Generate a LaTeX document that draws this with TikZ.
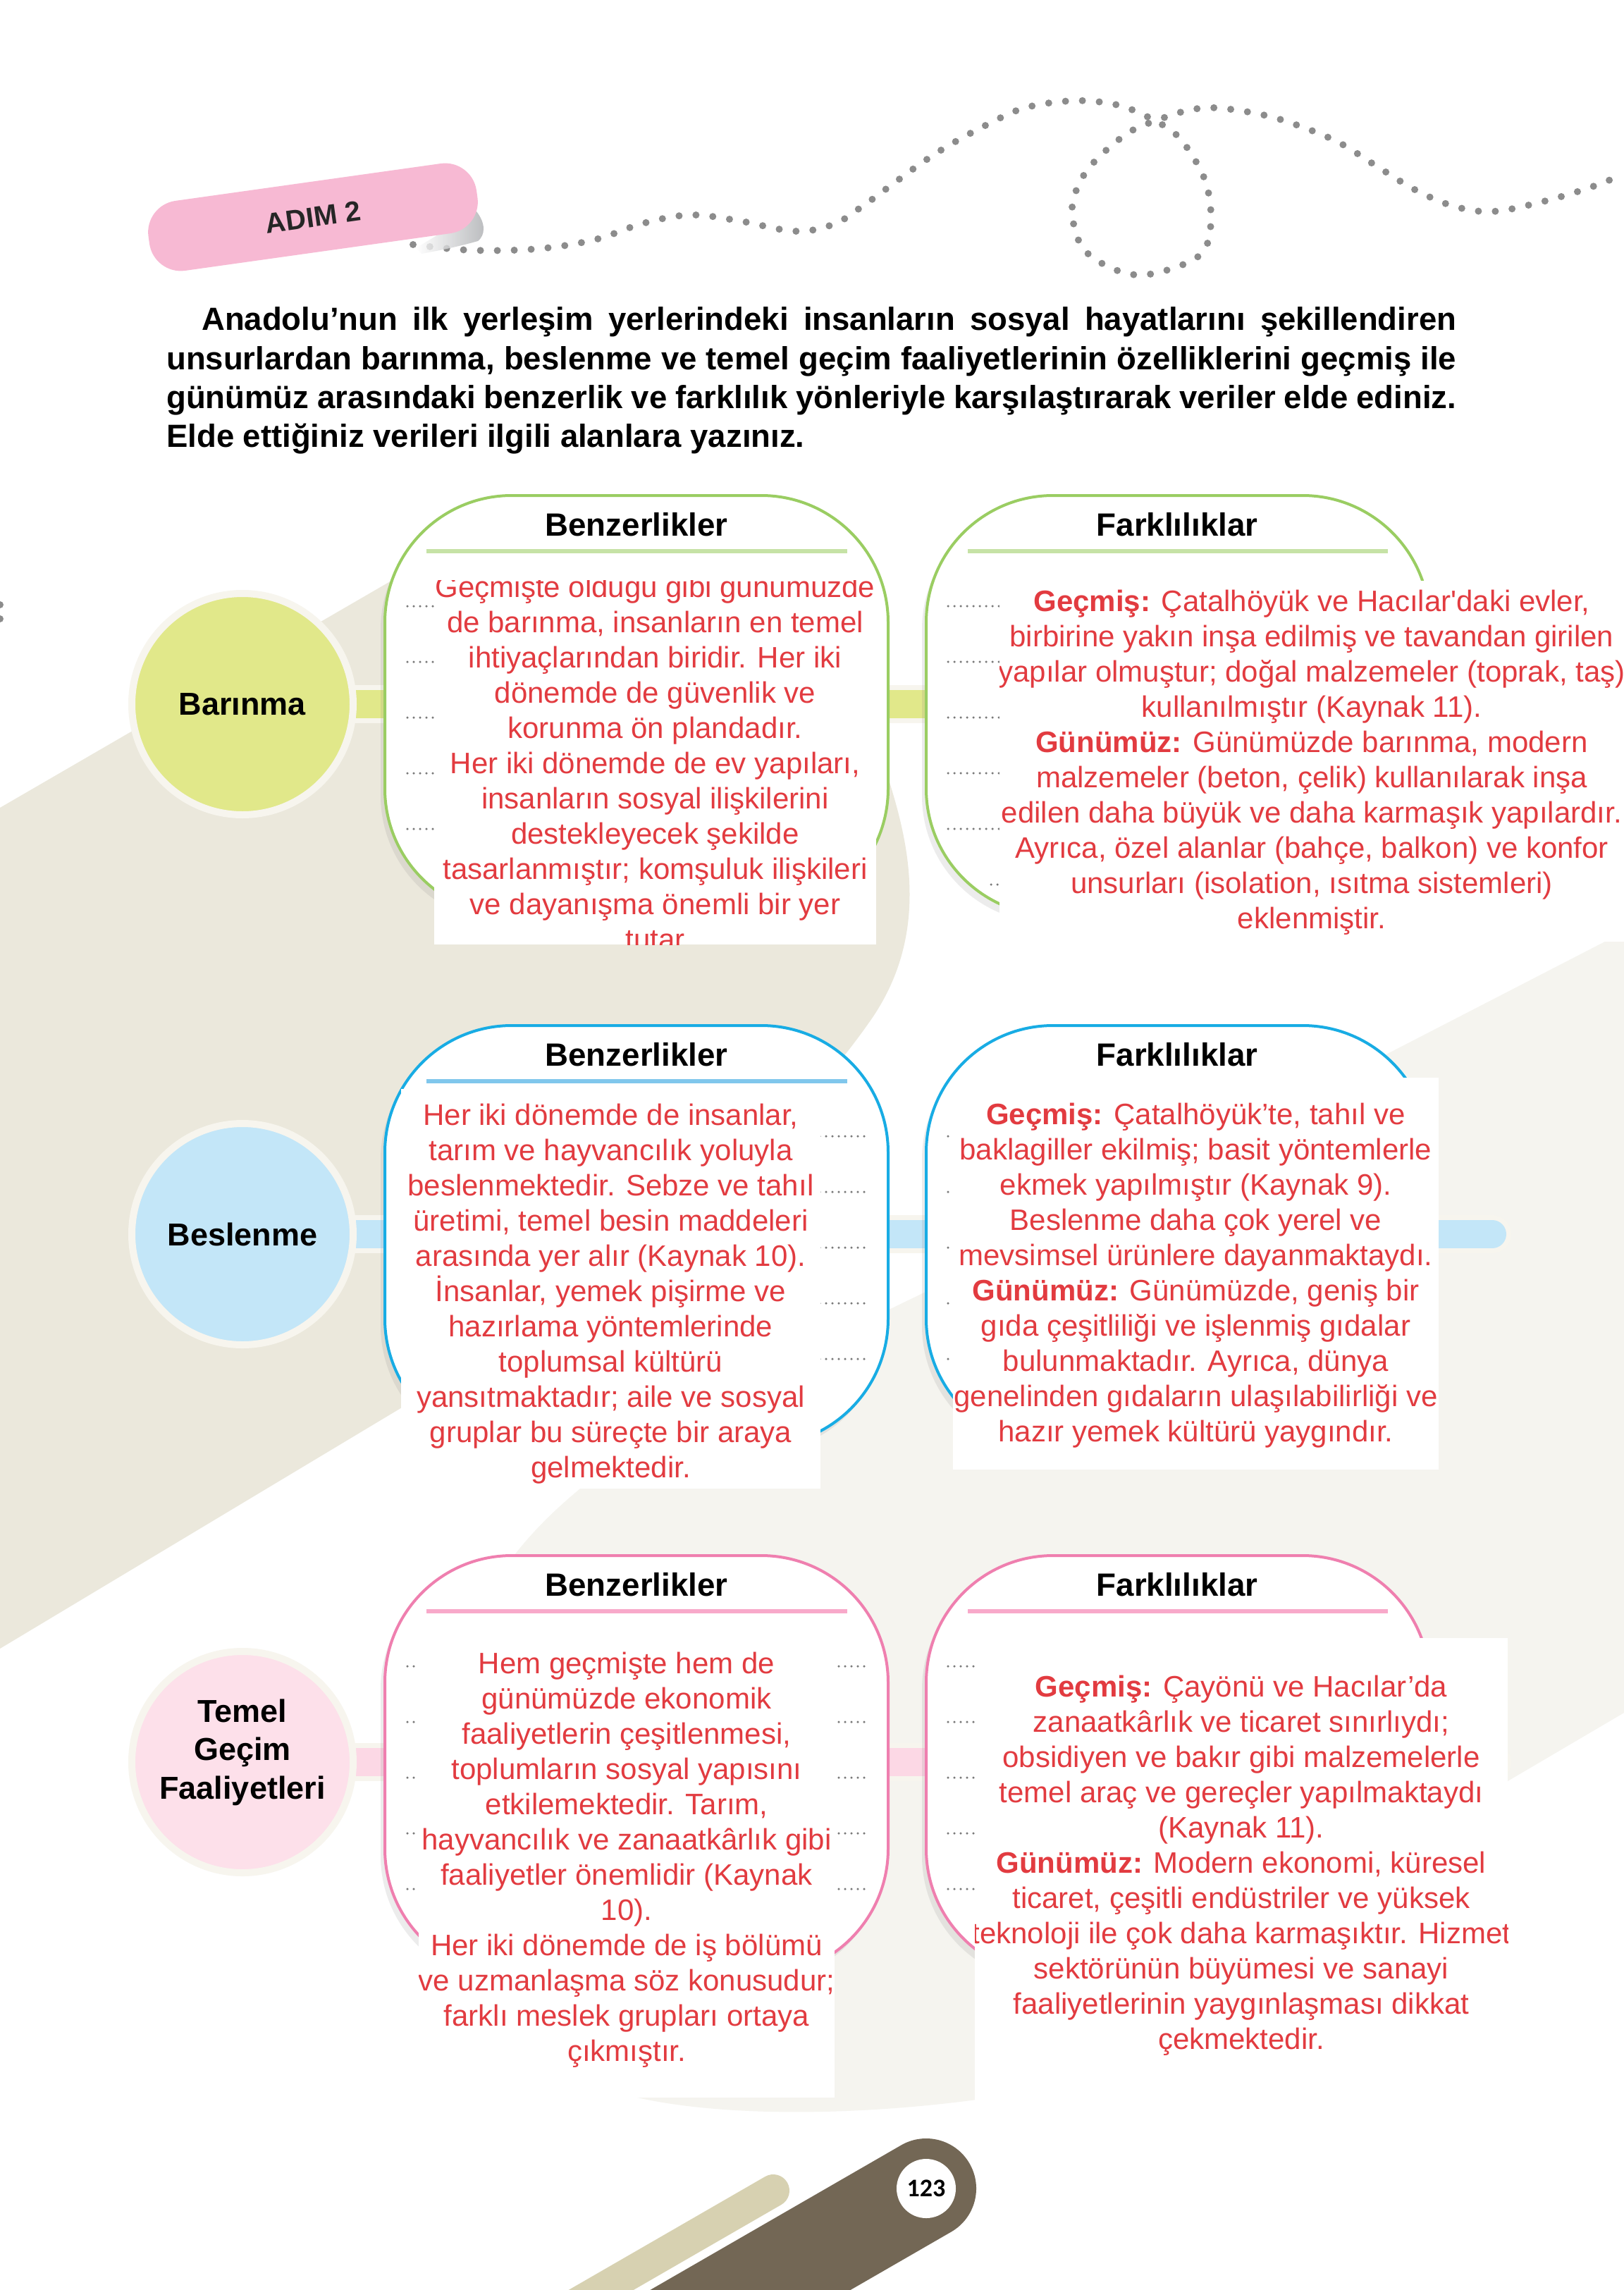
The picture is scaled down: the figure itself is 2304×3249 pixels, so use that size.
\documentclass[tikz,border=0pt]{standalone}
\usepackage{fontspec}
\setmainfont{Liberation Sans}
\newfontfamily\numfont{Carlito}
\usetikzlibrary{shadows}
\definecolor{beigeBG}{HTML}{EBE8DC}
\definecolor{lightBG}{HTML}{F5F4EF}
\definecolor{dotgray}{HTML}{8C8C8C}
\definecolor{tabpink}{HTML}{F7B9D3}
\definecolor{halo}{HTML}{F7F5EE}
\definecolor{gFill}{HTML}{E1E88A}
\definecolor{gLine}{HTML}{9ACD62}
\definecolor{gRule}{HTML}{C6E2A6}
\definecolor{bFill}{HTML}{C3E6F8}
\definecolor{bLine}{HTML}{18ACE4}
\definecolor{bRule}{HTML}{80C7EC}
\definecolor{pFill}{HTML}{FDE0EA}
\definecolor{pLine}{HTML}{EF7FAF}
\definecolor{pRule}{HTML}{F8A9CA}
\definecolor{redT}{HTML}{E23B40}
\definecolor{brownBar}{HTML}{736755}
\definecolor{sandBar}{HTML}{D7D1B1}
\definecolor{wdot}{HTML}{7A7A7A}
\definecolor{tabshade}{HTML}{A9ABAE}
\tikzset{
  cbox/.style={rectangle, minimum width=714pt, minimum height=596pt, rounded corners=180pt, fill=white, line width=4pt, inner sep=0pt,
    drop shadow={shadow xshift=-6pt, shadow yshift=-10pt, opacity=0.15}},
  hdr/.style={font=\fontsize{45.7}{50}\selectfont\bfseries, inner sep=0pt},
  circ/.style={circle, minimum size=314pt, inner sep=0pt, draw=halo, line width=10pt, font=\fontsize{45}{54.5}\selectfont\bfseries, align=center},
  redtxt/.style={anchor=north, inner sep=0pt, align=center, text=redT, font=\fontsize{42}{50}\selectfont},
  wline/.style={wdot, line width=3.5pt, dash pattern=on 0pt off 9pt, line cap=round},
  hrule/.style={line width=6pt},
  barhalo/.style={halo, line width=54pt, line cap=round},
  barline/.style={line width=40pt, line cap=round},
  dotpath/.style={dotgray, line width=10pt, dash pattern=on 0pt off 24pt, line cap=round},
  tabbox/.style={rectangle, fill=tabpink, minimum width=470pt, minimum height=100pt, rounded corners=45pt, inner sep=0pt, font=\fontsize{40}{44}\selectfont\bfseries, text=black!85}
}
\begin{document}
\begin{tikzpicture}[x=1pt,y=-1pt]
\useasboundingbox (0,0) rectangle (2304,3249);
\fill[white] (0,0) rectangle (2304,3249);

% background shapes
\fill[beigeBG] (0,1146) -- (600,798) .. controls (950,600) and (1200,850) .. (1262,1110)
  .. controls (1290,1200) and (1320,1330) .. (1232,1452)
  .. controls (1100,1640) and (800,1900) .. (570,1997) -- (0,2339) -- cycle;
\fill[lightBG] (2304,1322) -- (1313,1833) .. controls (1050,1960) and (800,2080) .. (700,2250)
  .. controls (600,2500) and (620,2850) .. (900,2975)
  .. controls (1050,3010) and (1300,3000) .. (1500,2960)
  .. controls (1800,2900) and (2000,2650) .. (2139,2527) -- (2304,2430) -- cycle;

% page number bars
\draw[sandBar, line width=46pt, line cap=round] (1097,3108) -- (577,3408);
\draw[brownBar, line width=142pt, line cap=round] (1314,3105) -- (794,3405);
\node[circle, fill=white, minimum size=84pt, inner sep=0pt, font=\numfont\bfseries\fontsize{36}{40}\selectfont] (pg) at (1314,3105) {123};

% dotted decorative path
\draw[dotpath] plot[smooth, tension=0.6] coordinates {(586,347) (668,355) (763,353) (844,340) (912,317) (979,305) (1047,313) (1128,328) (1183,318) (1223,293) (1264,263) (1305,233) (1345,207) (1400,177) (1454,153) (1521,143) (1576,147) (1616,160) (1664,187) (1691,220) (1711,260) (1718,307) (1711,350) (1684,373) (1623,390) (1576,380) (1535,350) (1521,297) (1535,253) (1562,220) (1603,187) (1643,170) (1684,157) (1725,153) (1792,163) (1847,180) (1901,203) (1955,237) (2009,270) (2064,293) (2118,300) (2185,287) (2253,267) (2304,247)};
\fill[dotgray] (0,858) circle (5);
\fill[dotgray] (0,878) circle (5);

% ADIM 2 tab
\shade[left color=white, right color=tabshade, opacity=0.8] (590,352) -- (676,300) .. controls (690,318) and (688,334) .. (678,342) .. controls (650,350) and (620,356) .. (598,360) -- cycle;
\node[tabbox, rotate=8] (tab) at (444,308) {ADIM 2};

% paragraph
\node[anchor=north west, text width=1830pt, align=justify, inner sep=0pt, font=\fontsize{45.5}{55.3}\selectfont\bfseries] (para) at (236,430)
{\hspace*{50pt}\strut Anadolu’nun ilk yerleşim yerlerindeki insanların sosyal hayatlarını şekillendiren\linebreak
unsurlardan barınma, beslenme ve temel geçim faaliyetlerinin özelliklerini geçmiş ile\linebreak
günümüz arasındaki benzerlik ve farklılık yönleriyle karşılaştırarak veriler elde ediniz.\linebreak
Elde ettiğiniz verileri ilgili alanlara yazınız.};

% end coordinates of bars
\coordinate (e1) at (2117,999);
\coordinate (e2) at (2117,1751);
\coordinate (e3) at (2117,2500);
\path (344,999) coordinate (c1p) (344,1751) coordinate (c2p) (344,2500) coordinate (c3p);
\draw[barhalo] (c1p) -- (e1);
\draw[barline, gFill] (c1p) -- (e1);
\draw[barhalo] (c2p) -- (e2);
\draw[barline, bFill] (c2p) -- (e2);
\draw[barhalo] (c3p) -- (e3);
\draw[barline, pFill!85!pRule] (c3p) -- (e3);

% circles
\node[circ, fill=gFill] (c1) at (c1p) {Barınma};
\node[circ, fill=bFill] (c2) at (c2p) {Beslenme};
\node[circ, fill=pFill] (c3) at (c3p) {};
\node[font=\fontsize{45}{54.5}\selectfont\bfseries, align=center, inner sep=0pt] (c3t) at (344,2486) {Temel\\Geçim\\Faaliyetleri};

% boxes
\node[cbox, draw=gLine] (b1) at (903,1001) {};
\node[cbox, draw=gLine] (f1) at (1671,1001) {};
\node[cbox, draw=bLine] (b2) at (903,1753) {};
\node[cbox, draw=bLine] (f2) at (1671,1753) {};
\node[cbox, draw=pLine] (b3) at (903,2505) {};
\node[cbox, draw=pLine] (f3) at (1671,2505) {};

% headers
\node[hdr] (hb1) at (903,744) {Benzerlikler};
\node[hdr] (hf1) at (1670,744) {Farklılıklar};
\node[hdr] (hb2) at (903,1496) {Benzerlikler};
\node[hdr] (hf2) at (1670,1496) {Farklılıklar};
\node[hdr] (hb3) at (903,2248) {Benzerlikler};
\node[hdr] (hf3) at (1670,2248) {Farklılıklar};
\draw[hrule, gRule] (605,782) -- (1202,782);
\draw[hrule, gRule] (1373,782) -- (1969,782);
\draw[hrule, bRule] (605,1534) -- (1202,1534);
\draw[hrule, bRule] (1373,1534) -- (1969,1534);
\draw[hrule, pRule] (605,2286) -- (1202,2286);
\draw[hrule, pRule] (1373,2286) -- (1969,2286);

% writing lines
\foreach \T in {703,1455,2207} {
  \foreach \k in {0,...,4} {
    \draw[wline] (578,{\T+157+79*\k}) -- (1230,{\T+157+79*\k});
    \draw[wline] (1345,{\T+157+79*\k}) -- (1998,{\T+157+79*\k});
  }
  \draw[wline] (638,{\T+552}) -- (1168,{\T+552});
  \draw[wline] (1406,{\T+552}) -- (1936,{\T+552});
}

% text blocks
\begin{scope}
\clip (616,823) rectangle (1243,1340);
\fill[white] (616,823) rectangle (1243,1340);
\node[redtxt] (t1b) at (929.5,812) {\strut Geçmişte olduğu gibi günümüzde\\de barınma, insanların en temel\\ihtiyaçlarından biridir. Her iki\\dönemde de güvenlik ve\\korunma ön plandadır.\\Her iki dönemde de ev yapıları,\\insanların sosyal ilişkilerini\\destekleyecek şekilde\\tasarlanmıştır; komşuluk ilişkileri\\ve dayanışma önemli bir yer\\tutar};
\end{scope}
\begin{scope}
\clip (1418,824) rectangle (2304,1336);
\fill[white] (1418,824) rectangle (2304,1336);
\node[redtxt] (t1f) at (1861,832) {\strut\textbf{Geçmiş:} Çatalhöyük ve Hacılar\textquotesingle daki evler,\\birbirine yakın inşa edilmiş ve tavandan girilen\\yapılar olmuştur; doğal malzemeler (toprak, taş)\\kullanılmıştır (Kaynak 11).\\\textbf{Günümüz:} Günümüzde barınma, modern\\malzemeler (beton, çelik) kullanılarak inşa\\edilen daha büyük ve daha karmaşık yapılardır.\\Ayrıca, özel alanlar (bahçe, balkon) ve konfor\\unsurları (isolation, ısıtma sistemleri)\\eklenmiştir.};
\end{scope}
\begin{scope}
\clip (569,1545) rectangle (1164,2112);
\fill[white] (569,1545) rectangle (1164,2112);
\node[redtxt] (t2b) at (866.5,1561) {\strut Her iki dönemde de insanlar,\\tarım ve hayvancılık yoluyla\\beslenmektedir. Sebze ve tahıl\\üretimi, temel besin maddeleri\\arasında yer alır (Kaynak 10).\\İnsanlar, yemek pişirme ve\\hazırlama yöntemlerinde\\toplumsal kültürü\\yansıtmaktadır; aile ve sosyal\\gruplar bu süreçte bir araya\\gelmektedir.};
\end{scope}
\begin{scope}
\clip (1352,1529) rectangle (2041,2085);
\fill[white] (1352,1529) rectangle (2041,2085);
\node[redtxt] (t2f) at (1696.5,1560) {\strut\textbf{Geçmiş:} Çatalhöyük’te, tahıl ve\\baklagiller ekilmiş; basit yöntemlerle\\ekmek yapılmıştır (Kaynak 9).\\Beslenme daha çok yerel ve\\mevsimsel ürünlere dayanmaktaydı.\\\textbf{Günümüz:} Günümüzde, geniş bir\\gıda çeşitliliği ve işlenmiş gıdalar\\bulunmaktadır. Ayrıca, dünya\\genelinden gıdaların ulaşılabilirliği ve\\hazır yemek kültürü yaygındır.};
\end{scope}
\begin{scope}
\clip (594,2320) rectangle (1184,2976);
\fill[white] (594,2320) rectangle (1184,2976);
\node[redtxt] (t3b) at (889,2339) {\strut Hem geçmişte hem de\\günümüzde ekonomik\\faaliyetlerin çeşitlenmesi,\\toplumların sosyal yapısını\\etkilemektedir. Tarım,\\hayvancılık ve zanaatkârlık gibi\\faaliyetler önemlidir (Kaynak\\10).\\Her iki dönemde de iş bölümü\\ve uzmanlaşma söz konusudur;\\farklı meslek grupları ortaya\\çıkmıştır.};
\end{scope}
\begin{scope}
\clip (1383,2324) rectangle (2139,2988);
\fill[white] (1383,2324) rectangle (2139,2988);
\node[redtxt] (t3f) at (1761,2372) {\strut\textbf{Geçmiş:} Çayönü ve Hacılar’da\\zanaatkârlık ve ticaret sınırlıydı;\\obsidiyen ve bakır gibi malzemelerle\\temel araç ve gereçler yapılmaktaydı\\(Kaynak 11).\\\textbf{Günümüz:} Modern ekonomi, küresel\\ticaret, çeşitli endüstriler ve yüksek\\teknoloji ile çok daha karmaşıktır. Hizmet\\sektörünün büyümesi ve sanayi\\faaliyetlerinin yaygınlaşması dikkat\\çekmektedir.};
\end{scope}
\end{tikzpicture}
\end{document}
